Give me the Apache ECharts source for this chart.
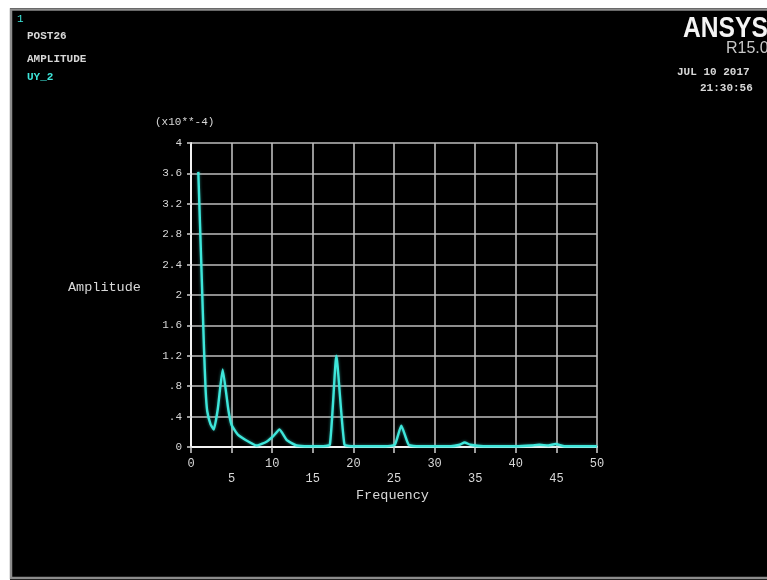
<!DOCTYPE html>
<html>
<head>
<meta charset="utf-8">
<title>POST26 Amplitude - UY_2</title>
<script src="https://cdn.jsdelivr.net/npm/echarts@6/dist/echarts.min.js"></script>
<style>
  html, body { margin: 0; padding: 0; background: #fff; }
  #chart { width: 767px; height: 580px; }
</style>
</head>
<body>
<div id="chart"></div>
<script>
// Frequency response of UY_2 (amplitude in units of 1e-4)
const frequency = [0.9, 1.3, 1.6, 1.8, 2.0, 2.4, 2.8, 3.3, 3.9, 4.6, 5.0, 5.8, 7.1, 8.1, 9.3, 10.1, 10.9, 11.8, 13.0, 14.5, 16.0, 17.1, 17.9, 18.9, 20.0, 22.0, 24.0, 25.1, 25.9, 26.8, 28.0, 30.0, 32.0, 33.1, 33.7, 34.4, 36.0, 38.0, 40.0, 42.0, 42.9, 44.0, 44.9, 46.0, 48.0, 50.0];
const amplitude = [3.62, 2.3, 1.3, 0.75, 0.47, 0.3, 0.23, 0.5, 1.02, 0.49, 0.29, 0.16, 0.07, 0.02, 0.07, 0.14, 0.23, 0.09, 0.02, 0.01, 0.01, 0.03, 1.2, 0.03, 0.01, 0.01, 0.01, 0.03, 0.28, 0.03, 0.01, 0.01, 0.01, 0.03, 0.06, 0.03, 0.01, 0.01, 0.01, 0.02, 0.03, 0.02, 0.04, 0.01, 0.01, 0.01];

const yTickLabels = ['0', '.4', '.8', '1.2', '1.6', '2', '2.4', '2.8', '3.2', '3.6', '4'];
const xTickLabels = ['0', '5', '10', '15', '20', '25', '30', '35', '40', '45', '50'];

const MONO = '"Liberation Mono", "DejaVu Sans Mono", monospace';
const TEXT = '#d8d8d8';
const CYAN = '#3ee6da';

const chart = echarts.init(document.getElementById('chart'));

const points = frequency.map((f, i) => [f, amplitude[i]]);

chart.setOption({
  backgroundColor: '#000',
  animation: false,
  grid: { left: 191, top: 143, width: 406, height: 304, containLabel: false },
  xAxis: {
    type: 'value', min: 0, max: 50, interval: 5,
    axisLine: { show: true, onZero: false, lineStyle: { color: '#f2f2f2', width: 2 } },
    axisTick: { show: true, length: 6, lineStyle: { color: '#cfcfcf', width: 1.5 } },
    splitLine: { show: true, showMinLine: true, showMaxLine: true, lineStyle: { color: '#bdbdbd', width: 1.6 } },
    axisLabel: {
      color: TEXT, fontFamily: MONO, fontSize: 12, margin: 9, lineHeight: 15,
      showMinLabel: true, showMaxLabel: true,
      formatter: (v) => {
        const i = Math.round(v / 5);
        const s = xTickLabels[i];
        return i % 2 ? '\n' + s : s;
      }
    }
  },
  yAxis: {
    type: 'value', min: 0, max: 4, interval: 0.4,
    axisLine: { show: true, lineStyle: { color: '#f2f2f2', width: 2 } },
    axisTick: { show: true, length: 4, lineStyle: { color: '#cfcfcf', width: 1.5 } },
    splitLine: { show: true, showMinLine: true, showMaxLine: true, lineStyle: { color: '#bdbdbd', width: 1.6 } },
    axisLabel: {
      color: TEXT, fontFamily: MONO, fontSize: 11, margin: 9,
      showMinLabel: true, showMaxLabel: true,
      formatter: (v) => yTickLabels[Math.round(v / 0.4)]
    }
  },
  series: [{
    type: 'line',
    data: points,
    showSymbol: false,
    smooth: 0.15,
    clip: true,
    lineStyle: { color: CYAN, width: 2.4, shadowColor: 'rgba(62,230,218,0.55)', shadowBlur: 3 }
  }],
  graphic: [
    // window frame
    { type: 'rect', shape: { x: 0, y: 0, width: 767, height: 8 }, style: { fill: '#fff' }, silent: true },
    { type: 'rect', shape: { x: 0, y: 0, width: 10, height: 580 }, style: { fill: '#fff' }, silent: true },
    { type: 'rect', shape: { x: 11, y: 9.5, width: 780, height: 568.5 }, style: { fill: 'none', stroke: '#8c8c8c', lineWidth: 2.5 }, silent: true },

    // header (top left)
    { type: 'text', left: 17, top: 14, style: { text: '1', fill: CYAN, font: '11px ' + MONO } },
    { type: 'text', left: 27, top: 31, style: { text: 'POST26', fill: TEXT, font: 'bold 11px ' + MONO } },
    { type: 'text', left: 27, top: 54, style: { text: 'AMPLITUDE', fill: TEXT, font: 'bold 11px ' + MONO } },
    { type: 'text', left: 27, top: 72, style: { text: 'UY_2', fill: CYAN, font: 'bold 11px ' + MONO } },

    // product banner (top right)
    { type: 'text', x: 683, y: 14, scaleX: 0.85, style: { text: 'ANSYS', fill: '#f4f4f4', font: 'bold 29px "Liberation Sans", Arial, sans-serif' } },
    { type: 'text', x: 726, y: 41, style: { text: 'R15.0', fill: '#c8c8c8', font: '16px "Liberation Sans", Arial, sans-serif' } },
    { type: 'text', x: 677, y: 67, style: { text: 'JUL 10 2017', fill: TEXT, font: 'bold 11px ' + MONO } },
    { type: 'text', x: 700, y: 83, style: { text: '21:30:56', fill: TEXT, font: 'bold 11px ' + MONO } },

    // axis titles and scale factor
    { type: 'text', x: 155, y: 117, style: { text: '(x10**-4)', fill: TEXT, font: '11px ' + MONO } },
    { type: 'text', x: 68, y: 280, style: { text: 'Amplitude', fill: TEXT, font: '13.5px ' + MONO } },
    { type: 'text', x: 356, y: 488, style: { text: 'Frequency', fill: TEXT, font: '13.5px ' + MONO } }
  ]
});
</script>
</body>
</html>
